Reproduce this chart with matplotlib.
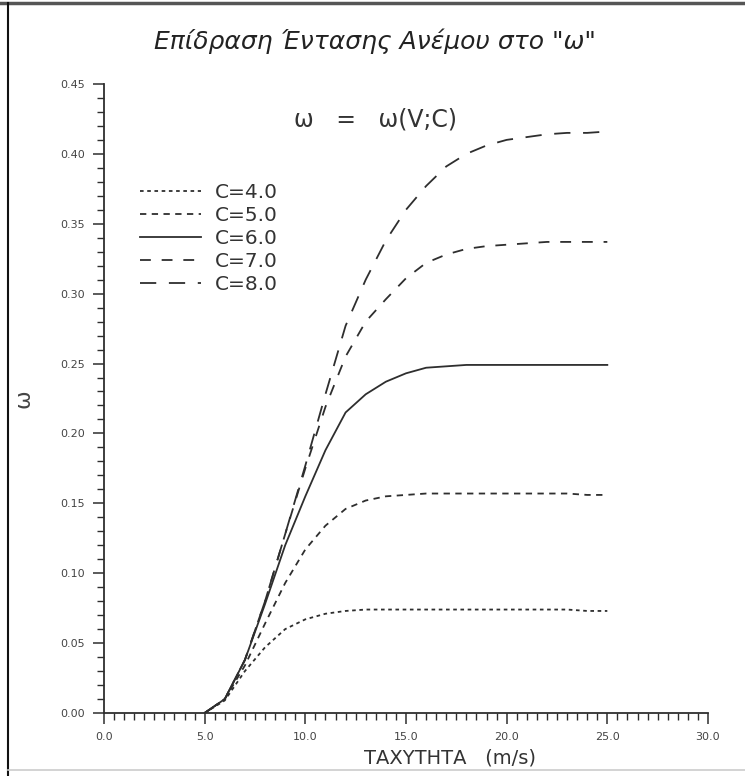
import matplotlib
matplotlib.use("Agg")
import matplotlib.pyplot as plt
from matplotlib.lines import Line2D
from matplotlib.ticker import MultipleLocator, FormatStrFormatter

# wind speed (m/s)
speed = [5, 6, 7, 8, 9, 10, 11, 12, 13, 14, 15, 16, 17, 18, 19, 20, 21, 22, 23, 24, 25]

# omega for each value of C
omega_c4 = [0.0, 0.009, 0.030, 0.047, 0.060, 0.067, 0.071, 0.073, 0.074, 0.074, 0.074,
            0.074, 0.074, 0.074, 0.074, 0.074, 0.074, 0.074, 0.074, 0.073, 0.073]
omega_c5 = [0.0, 0.010, 0.034, 0.064, 0.093, 0.117, 0.134, 0.146, 0.152, 0.155, 0.156,
            0.157, 0.157, 0.157, 0.157, 0.157, 0.157, 0.157, 0.157, 0.156, 0.156]
omega_c6 = [0.0, 0.010, 0.038, 0.078, 0.120, 0.155, 0.188, 0.215, 0.228, 0.237, 0.243,
            0.247, 0.248, 0.249, 0.249, 0.249, 0.249, 0.249, 0.249, 0.249, 0.249]
omega_c7 = [0.0, 0.010, 0.038, 0.080, 0.128, 0.175, 0.219, 0.255, 0.280, 0.296, 0.311,
            0.322, 0.328, 0.332, 0.334, 0.335, 0.336, 0.337, 0.337, 0.337, 0.337]
omega_c8 = [0.0, 0.010, 0.038, 0.080, 0.128, 0.177, 0.228, 0.277, 0.310, 0.338, 0.360,
            0.377, 0.391, 0.400, 0.406, 0.410, 0.412, 0.414, 0.415, 0.415, 0.416]

labels = ["C=4.0", "C=5.0", "C=6.0", "C=7.0", "C=8.0"]
series = [omega_c4, omega_c5, omega_c6, omega_c7, omega_c8]
dashes = [(2, 2), (3.5, 3), None, (6, 6), (9, 7)]

ink = "#2e2e2e"

fig = plt.figure(figsize=(7.45, 7.76), dpi=100)
ax = fig.add_axes([0.1396, 0.0812, 0.8107, 0.8106])

for vals, lab, d in zip(series, labels, dashes):
    line, = ax.plot(speed, vals, color=ink, lw=1.3, label=lab)
    if d is not None:
        line.set_dashes(d)

ax.set_xlim(0, 30)
ax.set_ylim(0, 0.45)
ax.xaxis.set_major_locator(MultipleLocator(5))
ax.xaxis.set_minor_locator(MultipleLocator(0.5))
ax.yaxis.set_major_locator(MultipleLocator(0.05))
ax.yaxis.set_minor_locator(MultipleLocator(0.01))
ax.xaxis.set_major_formatter(FormatStrFormatter("%.1f"))
ax.yaxis.set_major_formatter(FormatStrFormatter("%.2f"))
ax.tick_params(which="major", direction="out", length=8, width=1.1, color=ink,
               labelsize=8, labelcolor="#444444", pad=6)
ax.tick_params(which="minor", direction="out", length=5, width=1.0, color=ink)

ax.spines["top"].set_visible(False)
ax.spines["right"].set_visible(False)
for s in ("left", "bottom"):
    ax.spines[s].set_color(ink)
    ax.spines[s].set_linewidth(1.3)

ax.set_xlabel("ΤΑΧΥΤΗΤΑ   (m/s)", fontsize=14, color="#333333")
ax.xaxis.set_label_coords(0.573, -0.056)
ax.set_ylabel("ω", fontsize=16, color="#444444")
ax.yaxis.set_label_coords(-0.117, 0.5)

fig.suptitle("Επίδραση Έντασης Ανέμου στο \"ω\"", x=0.503, y=0.963,
             fontsize=18, style="italic", color="#222222")
ax.text(0.449, 0.943, "ω   =   ω(V;C)", transform=ax.transAxes, ha="center",
        va="center", fontsize=17, color="#333333")

ax.legend(loc="upper left", bbox_to_anchor=(0.03, 0.871), frameon=False,
          fontsize=14.5, handlelength=3.0, handletextpad=0.7, labelspacing=0.2,
          labelcolor="#333333")

# scan frame lines
fig.add_artist(Line2D([0, 1], [0.996, 0.996], color="#555555", lw=2.5))
fig.add_artist(Line2D([0.011, 0.011], [0, 0.996], color="#111111", lw=1.5))
fig.add_artist(Line2D([0.011, 1], [0.008, 0.008], color="#cccccc", lw=1.2))

fig.savefig("out.png", dpi=100)
